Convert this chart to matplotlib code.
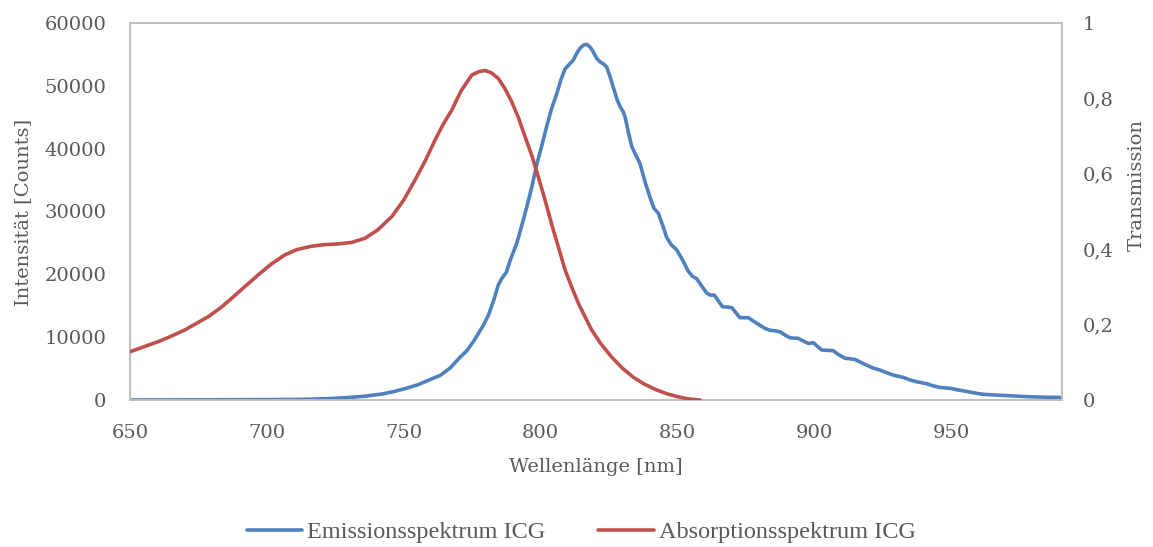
import matplotlib
matplotlib.use("Agg")
import matplotlib.pyplot as plt
from matplotlib.ticker import FuncFormatter

# Emissionsspektrum ICG (Counts, linke Achse)
em_nm = [650, 660, 670, 680, 690, 700, 710, 716, 724, 730, 736.6, 742, 746, 750,
         755, 761, 763.3, 767, 770.6, 773, 775.5, 779, 781, 783, 784.6, 785.8,
         787.5, 789, 791.3, 793, 795, 797, 798.6, 800.5, 802.2, 804, 806, 807.5,
         809, 810.5, 812, 813.3, 814.5, 815.8, 817, 818.3, 819.3, 820.5, 821.8,
         823, 824.2, 825.4, 826.6, 828, 829.1, 830.2, 830.9, 832.2, 833.4, 834.5,
         836.4, 838.3, 840, 841.5, 843.1, 844.5, 846.1, 847.8, 849.8, 851.9, 854,
         855.5, 857.1, 859, 860.8, 862, 863.5, 865, 866.5, 868, 869.9, 871.4,
         872.9, 874.5, 876, 878, 880.2, 882, 883.9, 885.8, 887.6, 889.5, 891.2,
         894.3, 896, 897.9, 899.8, 901.3, 902.8, 905, 907, 909, 911.3, 915, 917,
         919.2, 921.5, 924.1, 926.5, 929, 932.6, 935, 937.5, 941.1, 943.5, 946,
         949.9, 952, 954.6, 959.5, 962, 965.8, 971.6, 977.8, 985.5, 989.7, 990.6]
em_counts = [0, 10, 20, 30, 50, 60, 90, 130, 250, 400, 640, 950, 1300, 1750,
             2390, 3500, 3900, 5090, 6800, 7800, 9300, 11800, 13500, 16000, 18300, 19300,
             20300, 22300, 24900, 27500, 30700, 34200, 37400, 40500, 43400, 46300, 48800, 51000,
             52700, 53400, 54100, 55200, 56000, 56500, 56600, 56100, 55400, 54400, 53800,
             53500, 53000, 51500, 49800, 47800, 46700, 45900, 45100, 42500, 40300, 39300,
             37600, 34600, 32300, 30500, 29700, 28000, 25900, 24700, 23900, 22300, 20500,
             19700, 19300, 18100, 17000, 16700, 16700, 15800, 14850, 14800, 14700, 13900,
             13100, 13100, 13100, 12500, 11900, 11400, 11100, 11000, 10850, 10300, 9900,
             9800, 9400, 9000, 9100, 8500, 7950, 7900, 7850, 7200, 6650, 6450, 6000,
             5550, 5100, 4750, 4350, 3950, 3600, 3200, 2900, 2600, 2250, 2000,
             1850, 1650, 1450, 1050, 900, 800, 680, 530, 430, 420, 0]

# Absorptionsspektrum ICG (Transmission, rechte Achse)
ab_nm = [650, 655, 660.4, 665, 670.1, 674, 678.6, 683, 687.2, 692, 696.9, 701.5,
         706.6, 711, 716.4, 721, 726.1, 731, 735.9, 740.5, 745.6, 750, 754.2, 758,
         761.5, 764.5, 767.6, 771, 774.9, 777.5, 779.8, 782, 784.6, 787, 789.5,
         792, 794.4, 797, 799.2, 801.5, 804.1, 806.5, 809, 811.5, 813.9, 816.5,
         818.7, 822, 826, 830, 834, 838, 842, 846, 850, 854, 858.3]
ab_trans = [0.128, 0.141, 0.155, 0.169, 0.186, 0.202, 0.221, 0.244, 0.270, 0.301, 0.332, 0.360,
            0.385, 0.399, 0.408, 0.412, 0.414, 0.418, 0.429, 0.451, 0.486, 0.530, 0.584, 0.636,
            0.690, 0.732, 0.769, 0.820, 0.862, 0.871, 0.874, 0.868, 0.853, 0.826, 0.791,
            0.748, 0.698, 0.645, 0.592, 0.535, 0.466, 0.407, 0.345, 0.298, 0.256, 0.218,
            0.186, 0.150, 0.114, 0.084, 0.060, 0.042, 0.028, 0.017, 0.009, 0.003, 0.0]

x_ticks = [650, 700, 750, 800, 850, 900, 950]
left_ticks = [0, 10000, 20000, 30000, 40000, 50000, 60000]
right_ticks = [0, 0.2, 0.4, 0.6, 0.8, 1.0]

BLUE = "#4F81BD"
RED = "#C0504D"
GRID = "#BFBFBF"
TXT = "#595959"

plt.rcParams["font.family"] = "DejaVu Serif"
plt.rcParams["font.size"] = 14

W, H = 1153, 547
fig = plt.figure(figsize=(W / 100, H / 100), dpi=100)
ax = fig.add_axes([130 / W, (H - 400) / H, 932 / W, 377 / H])
ax2 = ax.twinx()

line_em, = ax.plot(em_nm, em_counts, color=BLUE, lw=2.6, solid_joinstyle="round",
                   solid_capstyle="round", label="Emissionsspektrum ICG", zorder=3)
line_ab, = ax2.plot(ab_nm, ab_trans, color=RED, lw=2.6, solid_joinstyle="round",
                    solid_capstyle="round", label="Absorptionsspektrum ICG", zorder=3)

ax.set_xlim(650, 990.6)
ax.set_ylim(0, 60000)
ax2.set_ylim(0, 1)
ax.set_xticks(x_ticks)
ax.set_yticks(left_ticks)
ax2.set_yticks(right_ticks)
ax2.yaxis.set_major_formatter(FuncFormatter(lambda v, _: f"{v:g}".replace(".", ",")))

for a in (ax, ax2):
    for s in a.spines.values():
        s.set_color(GRID)
        s.set_linewidth(1.3)
    a.tick_params(length=0, labelcolor=TXT, labelsize=14)
ax.tick_params(axis="x", pad=17)
ax.tick_params(axis="y", pad=17)
ax2.tick_params(axis="y", pad=15)

fig.text(596 / W, 1 - 467 / H, "Wellenlänge [nm]", ha="center", va="center",
         color=TXT, fontsize=14)
fig.text(23 / W, 1 - 212 / H, "Intensität [Counts]", ha="center", va="center",
         rotation=90, color=TXT, fontsize=14)
fig.text(1137 / W, 1 - 185 / H, "Transmission", ha="center", va="center",
         rotation=90, color=TXT, fontsize=14)

leg = fig.legend([line_em, line_ab], ["Emissionsspektrum ICG", "Absorptionsspektrum ICG"],
                 loc="center", bbox_to_anchor=(581 / W, 1 - 532 / H), ncol=2,
                 frameon=False, handlelength=2.3, handletextpad=0.2, columnspacing=2.15,
                 prop={"family": "Liberation Serif", "size": 17.5})
for t in leg.get_texts():
    t.set_color(TXT)

fig.savefig("out.png", dpi=100)
